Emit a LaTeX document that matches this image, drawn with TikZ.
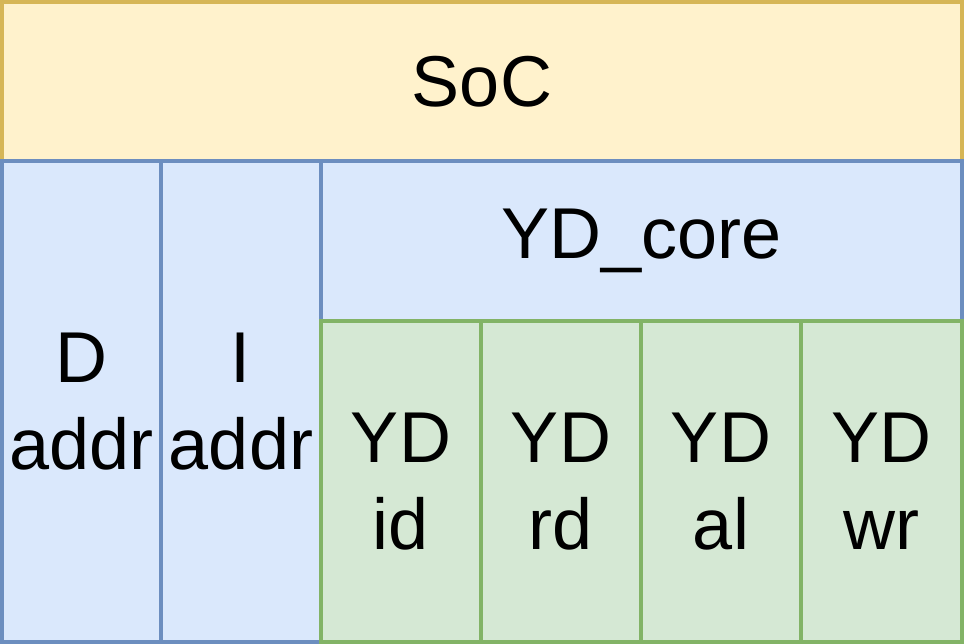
\documentclass[tikz,border=0pt]{standalone}
\usepackage{fontspec}
\setmainfont{Liberation Sans}
\usepackage{xcolor}
\usepackage{tikz}
\usetikzlibrary{positioning}
\definecolor{SocFill}{HTML}{FFF2CC}
\definecolor{SocLine}{HTML}{D6B656}
\definecolor{BusFill}{HTML}{DAE8FC}
\definecolor{BusLine}{HTML}{6C8EBF}
\definecolor{StageFill}{HTML}{D5E8D4}
\definecolor{StageLine}{HTML}{82B366}

\begin{document}
\begin{tikzpicture}[
    x=1pt, y=-1pt,
    cell/.style 2 args={
      draw=#1, fill=#2, line width=4pt,
      anchor=north west, inner sep=0pt, outer sep=0pt,
      align=center, font=\fontsize{72}{87}\selectfont
    }
  ]
    \useasboundingbox (0,0) rectangle (964,644);

    % SoC
    \node[cell={SocLine}{SocFill},
          minimum width=960pt, minimum height=159pt] (soc) at (2,2) {SoC};

    % Address blocks
    \node[cell={BusLine}{BusFill},
          minimum width=159pt, minimum height=481pt] (daddr) at (2,161) {D\\addr};
    \node[cell={BusLine}{BusFill},
          minimum width=160pt, minimum height=481pt] (iaddr) at (161,161) {I\\addr};

    % Core
    \node[cell={BusLine}{BusFill},
          minimum width=641pt, minimum height=160pt] (core) at (321,161) {YD\_core};

    % Pipeline stages
    \node[cell={StageLine}{StageFill},
          minimum width=160pt, minimum height=321pt] (ydid) at (321,321) {YD\\id};
    \node[cell={StageLine}{StageFill},
          minimum width=160pt, minimum height=321pt] (ydrd) at (481,321) {YD\\rd};
    \node[cell={StageLine}{StageFill},
          minimum width=160pt, minimum height=321pt] (ydal) at (641,321) {YD\\al};
    \node[cell={StageLine}{StageFill},
          minimum width=161pt, minimum height=321pt] (ydwr) at (801,321) {YD\\wr};
  \end{tikzpicture}
\end{document}
